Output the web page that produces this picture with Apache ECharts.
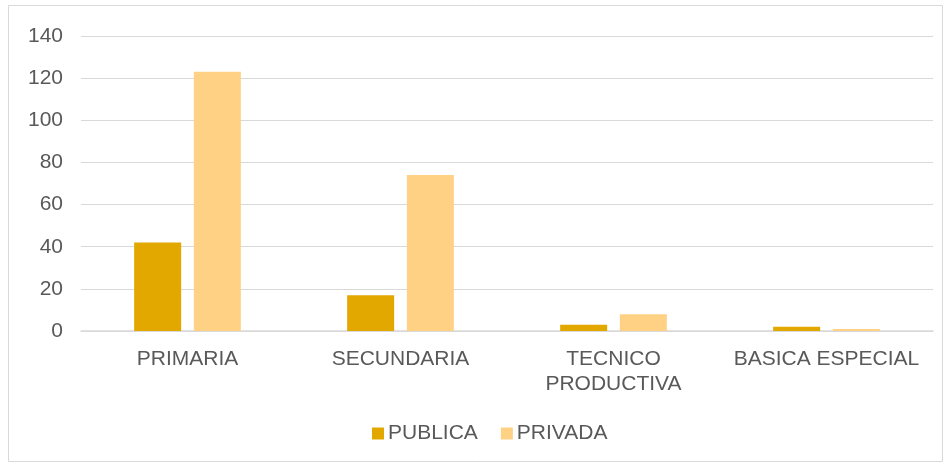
<!DOCTYPE html>
<html>
<head>
<meta charset="utf-8">
<script src="https://cdn.jsdelivr.net/npm/echarts@6/dist/echarts.min.js"></script>
<style>
  html, body { margin: 0; padding: 0; background: #fff; }
  #chart { width: 949px; height: 464px; }
</style>
</head>
<body>
<div id="chart"></div>
<script>
// Instituciones por nivel educativo y tipo de gestión
const categories = ['PRIMARIA', 'SECUNDARIA', 'TECNICO\nPRODUCTIVA', 'BASICA ESPECIAL'];
const publica = [42, 17, 3, 2];
const privada = [123, 74, 8, 1];
const yTicks = { min: 0, max: 140, interval: 20 };

const chart = echarts.init(document.getElementById('chart'));
const labelFont = { fontFamily: 'Liberation Sans, Arial, sans-serif', fontSize: 21, color: '#595959' };

chart.setOption({
  animation: false,
  graphic: [{
    type: 'rect',
    shape: { x: 8.5, y: 5.5, width: 934, height: 456 },
    style: { fill: 'none', stroke: '#D9D9D9', lineWidth: 1 },
    silent: true
  }],
  grid: { left: 81, right: 16, top: 36, bottom: 133, containLabel: false },
  legend: {
    top: 418,
    left: 367,
    itemWidth: 12,
    itemHeight: 12,
    itemGap: 23,
    icon: 'rect',
    textStyle: { ...labelFont, padding: [0, 0, 0, -1] },
    data: ['PUBLICA', 'PRIVADA']
  },
  xAxis: {
    type: 'category',
    data: categories,
    axisLine: { lineStyle: { color: '#D9D9D9', width: 1.5 } },
    axisTick: { show: false },
    axisLabel: { ...labelFont, margin: 16, lineHeight: 25, interval: 0 }
  },
  yAxis: {
    type: 'value',
    min: yTicks.min,
    max: yTicks.max,
    interval: yTicks.interval,
    axisLine: { show: false },
    axisTick: { show: false },
    splitLine: { lineStyle: { color: '#D9D9D9', width: 1 } },
    axisLabel: { ...labelFont, margin: 18 }
  },
  series: [
    {
      name: 'PUBLICA',
      type: 'bar',
      data: publica,
      barWidth: 47,
      barGap: '27%',
      itemStyle: { color: '#E2A800' }
    },
    {
      name: 'PRIVADA',
      type: 'bar',
      data: privada,
      barWidth: 47,
      itemStyle: { color: '#FFD185' }
    }
  ]
});
</script>
</body>
</html>
